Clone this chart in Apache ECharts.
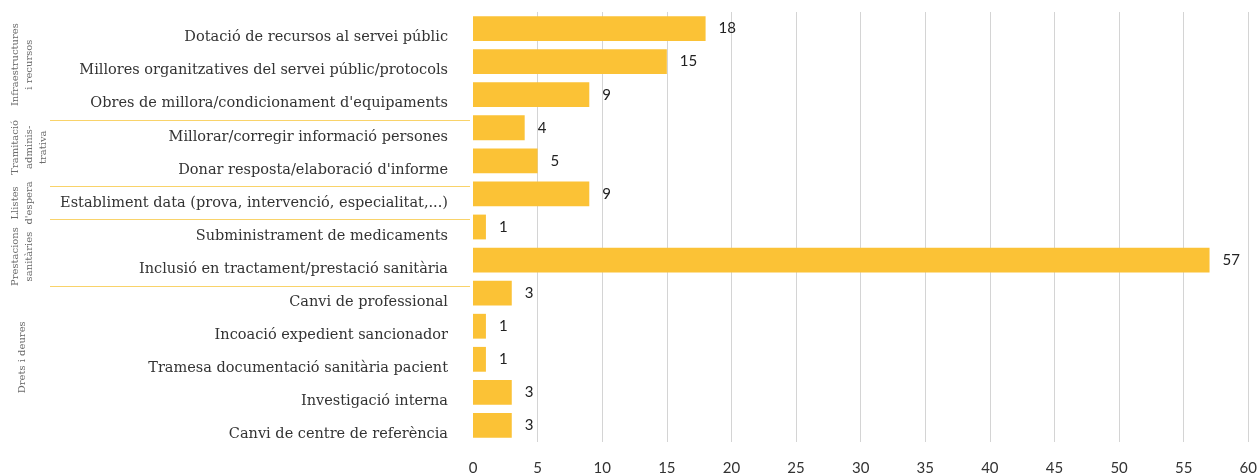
<!DOCTYPE html>
<html>
<head>
<meta charset="utf-8">
<script src="https://cdn.jsdelivr.net/npm/echarts@6/dist/echarts.min.js"></script>
<style>
  html, body { margin: 0; padding: 0; background: #ffffff; }
  #chart { width: 1260px; height: 476px; }
</style>
</head>
<body>
<div id="chart"></div>
<script>
// Queixes per tipus d'actuació, agrupades per àmbit
const categories = [
  "Dotació de recursos al servei públic",
  "Millores organitzatives del servei públic/protocols",
  "Obres de millora/condicionament d'equipaments",
  "Millorar/corregir informació persones",
  "Donar resposta/elaboració d'informe",
  "Establiment data (prova, intervenció, especialitat,...)",
  "Subministrament de medicaments",
  "Inclusió en tractament/prestació sanitària",
  "Canvi de professional",
  "Incoació expedient sancionador",
  "Tramesa documentació sanitària pacient",
  "Investigació interna",
  "Canvi de centre de referència"
];
const values = [18, 15, 9, 4, 5, 9, 1, 57, 3, 1, 1, 3, 3];

// Àmbits (etiqueta girada) i nombre de categories de cadascun
const groupNames = [
  "Infraestructures\ni recursos",
  "Tramitació\nadminis-\ntrativa",
  "Llistes\nd'espera",
  "Prestacions\nsanitàries",
  "Drets i deures"
];
const groupSizes = [3, 2, 1, 2, 5];

// Escala de l'eix de valors
const axisMin = 0;
const axisMax = 60;
const axisStep = 5;

// Estil
const BAR = '#FBC236';
const SEP = '#F9D36A';
const TEXT = '#333333';
const LABEL_FONT = 'DejaVu Serif';
const NUM_FONT = 'Lato';
// petit desplaçament vertical de cada etiqueta d'àmbit (px)
const groupLabelNudge = [0, 0, 6, 10, -5];

const chart = echarts.init(document.getElementById('chart'), null, { renderer: 'canvas' });

chart.setOption({
  animation: false,
  backgroundColor: '#ffffff',
  grid: { left: 473, right: 11, top: 12, bottom: 34, containLabel: false },
  xAxis: {
    type: 'value',
    min: axisMin,
    max: axisMax,
    interval: axisStep,
    axisLine: { show: false },
    axisTick: { show: false },
    axisLabel: { color: TEXT, fontFamily: NUM_FONT, fontSize: 15, margin: 19 },
    splitLine: { show: true, showMinLine: false, lineStyle: { color: '#d4d4d4', width: 1 } }
  },
  yAxis: {
    type: 'category',
    inverse: true,
    data: categories,
    axisLine: { show: false },
    axisTick: { show: false },
    axisLabel: {
      color: TEXT,
      fontFamily: LABEL_FONT,
      fontSize: 14.5,
      margin: 25,
      verticalAlign: 'top',
      lineHeight: 18
    }
  },
  series: [{
    type: 'bar',
    data: values,
    barWidth: '75%',
    itemStyle: { color: BAR },
    label: {
      show: true,
      position: 'right',
      distance: 13,
      color: '#222222',
      fontFamily: NUM_FONT,
      fontSize: 15
    }
  }]
});

// Separadors i etiquetes d'àmbit a l'esquerra de l'eix de categories
function drawGroups() {
  const centers = categories.map((c, i) => chart.convertToPixel({ yAxisIndex: 0 }, i));
  const step = centers[1] - centers[0];
  const edge = i => centers[0] - step / 2 + i * step;
  const drop = 9;
  const elements = [];
  let start = 0;
  groupSizes.forEach((n, g) => {
    const end = start + n;
    if (g > 0) {
      const y = Math.round(edge(start) + drop) + 0.5;
      elements.push({
        type: 'line',
        shape: { x1: 50, y1: y, x2: 470, y2: y },
        style: { stroke: SEP, lineWidth: 1.2 },
        silent: true
      });
    }
    const lines = groupNames[g].split('\n').length;
    const cy = (edge(start) + edge(end)) / 2 + 3 + groupLabelNudge[g];
    elements.push({
      type: 'text',
      x: 8 + 7 * Math.max(lines, 2),
      y: cy,
      rotation: Math.PI / 2,
      style: {
        text: groupNames[g],
        align: 'center',
        verticalAlign: 'middle',
        fill: '#6b6b6b',
        fontFamily: LABEL_FONT,
        fontSize: 10,
        lineHeight: 14
      },
      silent: true
    });
    start = end;
  });
  chart.setOption({ graphic: { elements } });
}
drawGroups();
</script>
</body>
</html>
